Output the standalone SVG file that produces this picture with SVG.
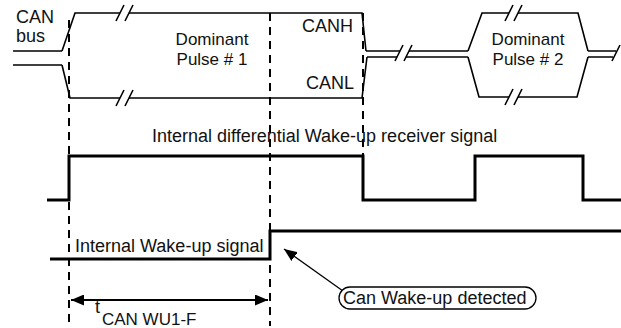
<svg xmlns="http://www.w3.org/2000/svg" width="621" height="328" viewBox="0 0 621 328">
<defs>
<style>
text{font-family:"Liberation Sans",Arial,sans-serif;font-size:18px;fill:#111}
.lbl{font-size:17px}
.bus{fill:none;stroke:#000;stroke-width:1.6}
.dash{fill:none;stroke:#000;stroke-width:2;stroke-dasharray:8,6}
.sig{fill:none;stroke:#000;stroke-width:3}
.thin{fill:none;stroke:#000;stroke-width:1.3}
</style>
<marker id="ah" viewBox="0 0 13 11" refX="13" refY="5.5" markerWidth="13" markerHeight="11" markerUnits="userSpaceOnUse" orient="auto-start-reverse">
<path d="M0,0 L13,5.5 L0,11 Z" fill="#000"/>
</marker>
</defs>
<g id="connectors">
<line class="dash" x1="69" y1="20" x2="69" y2="326"/>
<line class="dash" x1="270" y1="13" x2="270" y2="326"/>
<line class="dash" x1="363" y1="13" x2="363" y2="156"/>
<line x1="71" y1="300" x2="268" y2="300" stroke="#000" stroke-width="2" marker-start="url(#ah)" marker-end="url(#ah)"/>
<line class="thin" x1="343" y1="291" x2="284" y2="249" marker-end="url(#ah)"/>
</g>
<g id="can-bus">
<text x="16" y="23">CAN</text>
<text x="16" y="42">bus</text>
<path class="bus" d="M13,51 H62 M13,65 H62"/>
</g>
<g id="pulse1">
<path class="bus" d="M62,51 L75,13 H120 M129,13 H362 L366,51"/>
<path class="bus" d="M62,65 L70,98 H120 M129,98 H362 L367,57"/>
<path class="bus" d="M116,21 L124,5 M125,21 L133,5 M116,106 L124,90 M125,106 L133,90"/>
<text class="lbl" x="212" y="45" text-anchor="middle">Dominant</text>
<text class="lbl" x="212" y="65" text-anchor="middle">Pulse # 1</text>
<text x="302" y="32">CANH</text>
<text x="306" y="89">CANL</text>
</g>
<g id="bus-mid">
<path class="bus" d="M366,51 H400 M409,51 H468 M367,57 H397 M406,57 H468"/>
<path class="bus" d="M395,61 L403,45 M404,61 L412,45"/>
</g>
<g id="pulse2">
<path class="bus" d="M468,51 L482,13 H509 M518,13 H578 L588,51"/>
<path class="bus" d="M468,57 L479,97 H509 M518,97 H577 L588,57"/>
<path class="bus" d="M505,21 L513,5 M514,21 L522,5 M505,105 L513,89 M514,105 L522,89"/>
<text class="lbl" x="528" y="45" text-anchor="middle">Dominant</text>
<text class="lbl" x="528" y="65" text-anchor="middle">Pulse # 2</text>
<path class="bus" d="M588,51 H616 M588,57 H613 M612,61 L620,45"/>
</g>
<g id="diff-signal">
<text x="152" y="142">Internal differential Wake-up receiver signal</text>
<path class="sig" d="M47,200 H69 V156 H363 V200 H475 V156 H583 V200 H621"/>
</g>
<g id="wake-signal">
<text x="75" y="252">Internal Wake-up signal</text>
<path class="sig" d="M50,259 H270 V231 H621"/>
</g>
<g id="timing">
<text x="95" y="313">t</text>
<text x="102" y="325" style="font-size:17px">CAN WU1-F</text>
</g>
<g id="callout">
<rect x="339" y="287" width="197" height="22" rx="11" fill="#fff" stroke="#000" stroke-width="1.3"/>
<text x="343" y="304">Can Wake-up detected</text>
</g>
</svg>
